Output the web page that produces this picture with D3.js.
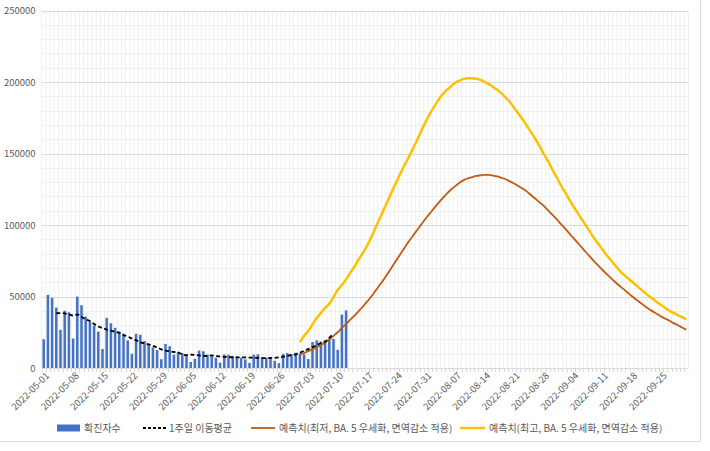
<!DOCTYPE html>
<html><head><meta charset="utf-8">
<script src="https://cdn.jsdelivr.net/npm/d3@7"></script>
<style>
body{margin:0;background:#fff;}
svg{display:block;font-family:"Noto Sans CJK KR","Noto Sans",sans-serif;}
</style></head>
<body><svg id="chart" width="710" height="451"></svg>
<script>
// ---------- data ----------
const firstDate = "2022-05-01";
const lastDate = "2022-10-01";
const tickLabels = ["2022-05-01","2022-05-08","2022-05-15","2022-05-22","2022-05-29","2022-06-05","2022-06-12","2022-06-19","2022-06-26","2022-07-03","2022-07-10","2022-07-17","2022-07-24","2022-07-31","2022-08-07","2022-08-14","2022-08-21","2022-08-28","2022-09-04","2022-09-11","2022-09-18","2022-09-25"];
const yTicks = [0,50000,100000,150000,200000,250000];

const confirmedStart = "2022-05-01";
const confirmed = [20085,51131,49064,42296,26714,40064,38982,20601,49933,43925,35907,32451,29581,25434,13296,35117,31290,28130,25126,23956,19298,9975,23946,23235,18816,16584,14410,12542,6141,16800,15200,9300,11200,10500,9300,4200,6500,12200,11700,9300,8200,7200,3800,9435,9301,8440,7992,7198,6068,3530,9305,9591,7497,7227,6243,5053,3423,9896,10455,9595,10715,10059,9528,6253,18147,19371,18511,19323,20286,20410,12693,37360,40266];

const maStart = "2022-05-04";
const movingAvg = [38300,38400,38200,37500,36600,37400,35900,34000,32900,30800,29000,27900,26900,26100,25200,24700,23100,22000,20600,19400,18000,17100,16500,15500,14400,13000,12200,11700,11200,10900,9500,9000,9400,9100,8800,8500,8400,8800,8400,8000,7800,7600,7500,7400,7400,7400,7300,7200,7100,6900,6900,7000,7100,7400,7900,8500,9100,9500,10700,12000,13200,14500,15900,17500,18400,21100,24100];

const forecastStart = "2022-07-01";
const forecastLow = [9500,10500,11800,13000,14500,16000,17800,20000,22500,25000,28000,30800,33800,36700,39800,43000,46400,50000,54000,58000,62000,66500,71000,75500,80000,84500,88800,92800,96800,100800,104700,108300,112000,115500,118800,122000,124800,127200,129500,131400,132600,133500,134300,134700,135000,135000,134600,134000,133000,132000,130500,129000,127300,125500,123500,121000,118500,116000,113500,110500,107500,104500,101200,98000,94700,91300,88000,84700,81300,78000,74800,71700,68700,65800,63000,60300,57700,55300,52800,50300,48000,45800,43600,41500,39600,37800,36000,34500,33000,31400,29900,28300,26800];
const forecastHigh = [18000,22500,26000,30500,35000,38500,42000,45000,49500,54500,58000,62000,66500,71000,76000,80500,85500,91500,98000,104500,111000,117500,124000,130300,136500,142500,148000,154000,160000,166500,172500,178000,183000,187500,191500,194500,197000,199500,201000,202200,202600,202600,202300,201500,200000,198500,196500,194500,192000,189000,186000,182000,178000,174000,169500,165000,160500,155500,150000,145000,139500,134000,128500,123500,118500,113500,109000,104500,100000,95500,91000,87000,83000,79000,75500,72000,68500,65500,63000,60500,58000,55500,53000,50500,48500,46000,44000,42000,40000,38500,37000,35500,34000];

const seriesNames = ["확진자수","1주일 이동평균","예측치(최저, BA. 5 우세화, 면역감소 적용)","예측치(최고, BA. 5 우세화, 면역감소 적용)"];
const colors = {bar:"#4472C4", ma:"#000000", low:"#C55A11", high:"#FFC000"};

// ---------- helpers ----------
const parse = d3.timeParse("%Y-%m-%d");
const fmt = d3.timeFormat("%Y-%m-%d");
const categories = d3.timeDay.range(parse(firstDate), d3.timeDay.offset(parse(lastDate),1)).map(fmt);
function seriesFrom(start, values){
  const s = parse(start);
  return values.map((v,i)=>({date: fmt(d3.timeDay.offset(s,i)), value: v}));
}

const svg = d3.select("#chart");
const L = 41.6, R = 688.4, T = 10.5, B = 368;

const x = d3.scaleBand().domain(categories).range([L,R]).paddingInner(0.4).paddingOuter(0.2);
const y = d3.scaleLinear().domain([0,250000]).range([B,T]);
const step = x.step();
const cx = d => x(d) + x.bandwidth()/2;

// chart frame (right/bottom edges visible)
svg.append("line").attr("x1",700.5).attr("x2",700.5).attr("y1",0).attr("y2",441.5).attr("stroke","#d9d9d9");
svg.append("line").attr("x1",0).attr("x2",700.5).attr("y1",441.5).attr("y2",441.5).attr("stroke","#d9d9d9");

// vertical minor gridlines
const g = svg.append("g");
g.selectAll(".vg").data(categories).enter().append("line")
  .attr("x1",d=>x(d)-step*0.2).attr("x2",d=>x(d)-step*0.2)
  .attr("y1",T).attr("y2",B).attr("stroke","#efefef").attr("stroke-width",1);
g.append("line").attr("x1",R).attr("x2",R).attr("y1",T).attr("y2",B).attr("stroke","#efefef");
// horizontal minor gridlines
g.selectAll(".hm").data(d3.range(10000,250001,10000).filter(v=>v%50000!==0)).enter().append("line")
  .attr("x1",L).attr("x2",R).attr("y1",d=>Math.round(y(d))+0.5).attr("y2",d=>Math.round(y(d))+0.5)
  .attr("stroke","#f0f0f0");
// horizontal major gridlines
g.selectAll(".hM").data(yTicks.filter(v=>v>0)).enter().append("line")
  .attr("x1",L).attr("x2",R).attr("y1",d=>Math.round(y(d))+0.5).attr("y2",d=>Math.round(y(d))+0.5)
  .attr("stroke","#d9d9d9");

// y axis
const yAxis = d3.axisLeft(y).tickValues(yTicks).tickSize(0).tickPadding(6).tickFormat(d3.format("d"));
const ya = svg.append("g").attr("transform",`translate(${L},0)`).call(yAxis);
ya.select(".domain").remove();
ya.selectAll("text").attr("fill","#595959").style("font-size","9.5px").style("font-family","'Noto Sans CJK KR',sans-serif");

// bars
svg.append("g").selectAll("rect").data(seriesFrom(confirmedStart, confirmed)).enter().append("rect")
  .attr("x",d=>x(d.date)).attr("width",x.bandwidth())
  .attr("y",d=>y(d.value)).attr("height",d=>B-y(d.value)).attr("fill",colors.bar);

// x axis
const xAxis = d3.axisBottom(x).tickValues(tickLabels).tickSize(0).tickPadding(0);
const xa = svg.append("g").attr("transform",`translate(0,${B})`).call(xAxis);
xa.select(".domain").remove();
xa.selectAll(".tick text")
  .attr("fill","#595959").style("font-size","9.5px").style("font-family","'Noto Sans CJK KR',sans-serif")
  .attr("text-anchor","end").attr("transform","translate(4,6) rotate(-45)").attr("dy","0.35em").attr("y",0).attr("x",0);
// axis line + ticks at each category
svg.append("line").attr("x1",L).attr("x2",R).attr("y1",B+0.5).attr("y2",B+0.5).attr("stroke","#d9d9d9");
svg.append("g").selectAll("line").data(categories).enter().append("line")
  .attr("x1",d=>Math.round(x(d)-step*0.2)+0.5).attr("x2",d=>Math.round(x(d)-step*0.2)+0.5)
  .attr("y1",B).attr("y2",B+4).attr("stroke","#d9d9d9");

// lines
const line = d3.line().x(d=>cx(d.date)).y(d=>y(d.value)).curve(d3.curveMonotoneX);
svg.append("path").datum(seriesFrom(forecastStart, forecastLow)).attr("d",line)
  .attr("fill","none").attr("stroke",colors.low).attr("stroke-width",1.8);
svg.append("path").datum(seriesFrom(forecastStart, forecastHigh)).attr("d",line)
  .attr("fill","none").attr("stroke",colors.high).attr("stroke-width",2.5);
svg.append("path").datum(seriesFrom(maStart, movingAvg)).attr("d",line)
  .attr("fill","none").attr("stroke",colors.ma).attr("stroke-width",1.8).attr("stroke-dasharray","4,2.5");

// legend
const lg = svg.append("g").style("font-size","10px").attr("fill","#595959");
const ly = 428;
lg.append("rect").attr("x",57).attr("y",ly-3.5).attr("width",23).attr("height",7).attr("fill",colors.bar);
lg.append("text").attr("x",84).attr("y",ly).attr("dy","0.35em").attr("fill","#595959").text(seriesNames[0]);
lg.append("line").attr("x1",143).attr("x2",168).attr("y1",ly).attr("y2",ly).attr("stroke","#000").attr("stroke-width",1.8).attr("stroke-dasharray","3,2");
lg.append("text").attr("x",169).attr("y",ly).attr("dy","0.35em").attr("fill","#595959").text(seriesNames[1]);
lg.append("line").attr("x1",251).attr("x2",275).attr("y1",ly).attr("y2",ly).attr("stroke",colors.low).attr("stroke-width",1.8);
lg.append("text").attr("x",279).attr("y",ly).attr("dy","0.35em").attr("fill","#595959").text(seriesNames[2]);
lg.append("line").attr("x1",460).attr("x2",485).attr("y1",ly).attr("y2",ly).attr("stroke",colors.high).attr("stroke-width",2.5);
lg.append("text").attr("x",489).attr("y",ly).attr("dy","0.35em").attr("fill","#595959").text(seriesNames[3]);
</script></body></html>
